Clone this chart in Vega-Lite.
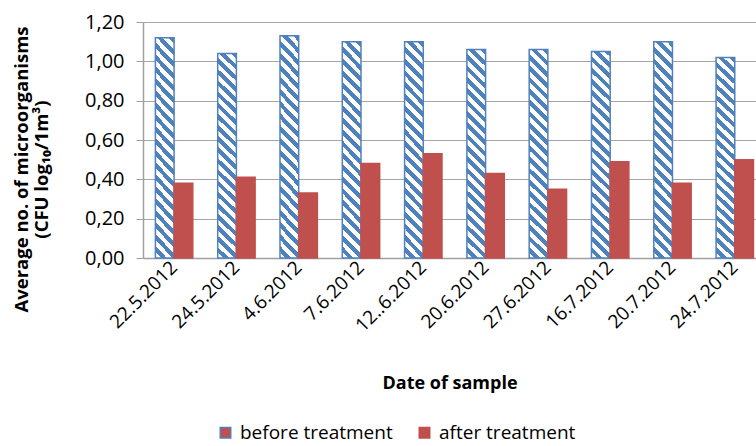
{
  "$schema": "https://vega.github.io/schema/vega-lite/v6.json",
  "description": "Average number of microorganisms before and after treatment by sample date.",
  "width": 613,
  "height": 236,
  "autosize": "none",
  "padding": {"left": 143, "top": 22, "right": 0, "bottom": 188},
  "config": {
    "view": {"stroke": null},
    "font": "Open Sans",
    "axis": {"labelColor": "#000000", "titleColor": "#000000"}
  },
  "data": {
    "values": [
      {"date": "22.5.2012", "series": "before treatment", "value": 1.12},
      {"date": "22.5.2012", "series": "after treatment", "value": 0.38},
      {"date": "24.5.2012", "series": "before treatment", "value": 1.04},
      {"date": "24.5.2012", "series": "after treatment", "value": 0.41},
      {"date": "4.6.2012", "series": "before treatment", "value": 1.13},
      {"date": "4.6.2012", "series": "after treatment", "value": 0.33},
      {"date": "7.6.2012", "series": "before treatment", "value": 1.10},
      {"date": "7.6.2012", "series": "after treatment", "value": 0.48},
      {"date": "12..6.2012", "series": "before treatment", "value": 1.10},
      {"date": "12..6.2012", "series": "after treatment", "value": 0.53},
      {"date": "20.6.2012", "series": "before treatment", "value": 1.06},
      {"date": "20.6.2012", "series": "after treatment", "value": 0.43},
      {"date": "27.6.2012", "series": "before treatment", "value": 1.06},
      {"date": "27.6.2012", "series": "after treatment", "value": 0.35},
      {"date": "16.7.2012", "series": "before treatment", "value": 1.05},
      {"date": "16.7.2012", "series": "after treatment", "value": 0.49},
      {"date": "20.7.2012", "series": "before treatment", "value": 1.10},
      {"date": "20.7.2012", "series": "after treatment", "value": 0.38},
      {"date": "24.7.2012", "series": "before treatment", "value": 1.02},
      {"date": "24.7.2012", "series": "after treatment", "value": 0.50}
    ]
  },
  "mark": {"type": "bar", "strokeWidth": 1.5},
  "encoding": {
    "x": {
      "field": "date",
      "type": "nominal",
      "sort": null,
      "scale": {"paddingInner": 0.4, "paddingOuter": 0.12, "align": 0.83},
      "axis": {
        "title": "Date of sample",
        "titleFontSize": 18,
        "titleFontWeight": "bold",
        "titleBaseline": "middle",
        "titleY": 125,
        "labelAngle": -45,
        "labelAlign": "right",
        "labelBaseline": "middle",
        "labelFontSize": 19,
        "labelPadding": 6,
        "ticks": false,
        "domainColor": "#A0A0A0",
        "domainWidth": 1.5,
        "grid": false
      }
    },
    "xOffset": {
      "field": "series",
      "type": "nominal",
      "sort": ["before treatment", "after treatment"],
      "scale": {"paddingInner": 0, "paddingOuter": 0}
    },
    "y": {
      "field": "value",
      "type": "quantitative",
      "scale": {"domain": [0, 1.2], "nice": false},
      "axis": {
        "title": ["Average no. of microorganisms", "(CFU log₁₀/1m³)"],
        "titleFontSize": 18.5,
        "titleFontWeight": "bold",
        "titleLineHeight": 20,
        "titleAngle": -90,
        "titleAlign": "center",
        "titleBaseline": "middle",
        "titleX": -122,
        "titleY": 147,
        "values": [0, 0.2, 0.4, 0.6, 0.8, 1.0, 1.2],
        "labelExpr": "replace(format(datum.value, '.2f'), '.', ',')",
        "labelFontSize": 20,
        "labelPadding": 12,
        "tickSize": 7,
        "tickColor": "#A0A0A0",
        "domainColor": "#A0A0A0",
        "domainWidth": 1.5,
        "gridColor": "#A6A6A6",
        "gridWidth": 1.2
      }
    },
    "fill": {
      "condition": {
        "test": "datum.series === 'before treatment'",
        "value": {
          "gradient": "linear",
          "x1": 0, "y1": 1, "x2": 0.0955, "y2": -0.08,
          "stops": [
            {"offset": 0, "color": "#FFFFFF"}, {"offset": 0.025, "color": "#FFFFFF"}, {"offset": 0.025, "color": "#4F81BD"}, {"offset": 0.05, "color": "#4F81BD"},
            {"offset": 0.05, "color": "#FFFFFF"}, {"offset": 0.075, "color": "#FFFFFF"}, {"offset": 0.075, "color": "#4F81BD"}, {"offset": 0.1, "color": "#4F81BD"},
            {"offset": 0.1, "color": "#FFFFFF"}, {"offset": 0.125, "color": "#FFFFFF"}, {"offset": 0.125, "color": "#4F81BD"}, {"offset": 0.15, "color": "#4F81BD"},
            {"offset": 0.15, "color": "#FFFFFF"}, {"offset": 0.175, "color": "#FFFFFF"}, {"offset": 0.175, "color": "#4F81BD"}, {"offset": 0.2, "color": "#4F81BD"},
            {"offset": 0.2, "color": "#FFFFFF"}, {"offset": 0.225, "color": "#FFFFFF"}, {"offset": 0.225, "color": "#4F81BD"}, {"offset": 0.25, "color": "#4F81BD"},
            {"offset": 0.25, "color": "#FFFFFF"}, {"offset": 0.275, "color": "#FFFFFF"}, {"offset": 0.275, "color": "#4F81BD"}, {"offset": 0.3, "color": "#4F81BD"},
            {"offset": 0.3, "color": "#FFFFFF"}, {"offset": 0.325, "color": "#FFFFFF"}, {"offset": 0.325, "color": "#4F81BD"}, {"offset": 0.35, "color": "#4F81BD"},
            {"offset": 0.35, "color": "#FFFFFF"}, {"offset": 0.375, "color": "#FFFFFF"}, {"offset": 0.375, "color": "#4F81BD"}, {"offset": 0.4, "color": "#4F81BD"},
            {"offset": 0.4, "color": "#FFFFFF"}, {"offset": 0.425, "color": "#FFFFFF"}, {"offset": 0.425, "color": "#4F81BD"}, {"offset": 0.45, "color": "#4F81BD"},
            {"offset": 0.45, "color": "#FFFFFF"}, {"offset": 0.475, "color": "#FFFFFF"}, {"offset": 0.475, "color": "#4F81BD"}, {"offset": 0.5, "color": "#4F81BD"},
            {"offset": 0.5, "color": "#FFFFFF"}, {"offset": 0.525, "color": "#FFFFFF"}, {"offset": 0.525, "color": "#4F81BD"}, {"offset": 0.55, "color": "#4F81BD"},
            {"offset": 0.55, "color": "#FFFFFF"}, {"offset": 0.575, "color": "#FFFFFF"}, {"offset": 0.575, "color": "#4F81BD"}, {"offset": 0.6, "color": "#4F81BD"},
            {"offset": 0.6, "color": "#FFFFFF"}, {"offset": 0.625, "color": "#FFFFFF"}, {"offset": 0.625, "color": "#4F81BD"}, {"offset": 0.65, "color": "#4F81BD"},
            {"offset": 0.65, "color": "#FFFFFF"}, {"offset": 0.675, "color": "#FFFFFF"}, {"offset": 0.675, "color": "#4F81BD"}, {"offset": 0.7, "color": "#4F81BD"},
            {"offset": 0.7, "color": "#FFFFFF"}, {"offset": 0.725, "color": "#FFFFFF"}, {"offset": 0.725, "color": "#4F81BD"}, {"offset": 0.75, "color": "#4F81BD"},
            {"offset": 0.75, "color": "#FFFFFF"}, {"offset": 0.775, "color": "#FFFFFF"}, {"offset": 0.775, "color": "#4F81BD"}, {"offset": 0.8, "color": "#4F81BD"},
            {"offset": 0.8, "color": "#FFFFFF"}, {"offset": 0.825, "color": "#FFFFFF"}, {"offset": 0.825, "color": "#4F81BD"}, {"offset": 0.85, "color": "#4F81BD"},
            {"offset": 0.85, "color": "#FFFFFF"}, {"offset": 0.875, "color": "#FFFFFF"}, {"offset": 0.875, "color": "#4F81BD"}, {"offset": 0.9, "color": "#4F81BD"},
            {"offset": 0.9, "color": "#FFFFFF"}, {"offset": 0.925, "color": "#FFFFFF"}, {"offset": 0.925, "color": "#4F81BD"}, {"offset": 0.95, "color": "#4F81BD"},
            {"offset": 0.95, "color": "#FFFFFF"}, {"offset": 0.975, "color": "#FFFFFF"}, {"offset": 0.975, "color": "#4F81BD"}, {"offset": 1, "color": "#4F81BD"}
          ]
        }
      },
      "value": "#C0504D"
    },
    "stroke": {
      "field": "series",
      "type": "nominal",
      "scale": {
        "domain": ["before treatment", "after treatment"],
        "range": ["#4F81BD", "#C0504D"]
      },
      "legend": {
        "title": null,
        "orient": "none",
        "direction": "horizontal",
        "legendX": 73,
        "legendY": 401,
        "symbolType": "square",
        "symbolSize": 110,
        "symbolStrokeWidth": 1.5,
        "symbolFillColor": {"expr": "datum.value === 'before treatment' ? {gradient: 'linear', x1: 0, y1: 1, x2: 1, y2: 0, stops: [{offset: 0, color: '#FFFFFF'}, {offset: 0.38, color: '#FFFFFF'}, {offset: 0.38, color: '#4F81BD'}, {offset: 0.62, color: '#4F81BD'}, {offset: 0.62, color: '#FFFFFF'}, {offset: 1, color: '#FFFFFF'}]} : '#C0504D'"},
        "labelFontSize": 19,
        "labelColor": "#000000",
        "labelOffset": 5,
        "columnPadding": 22
      }
    }
  }
}
